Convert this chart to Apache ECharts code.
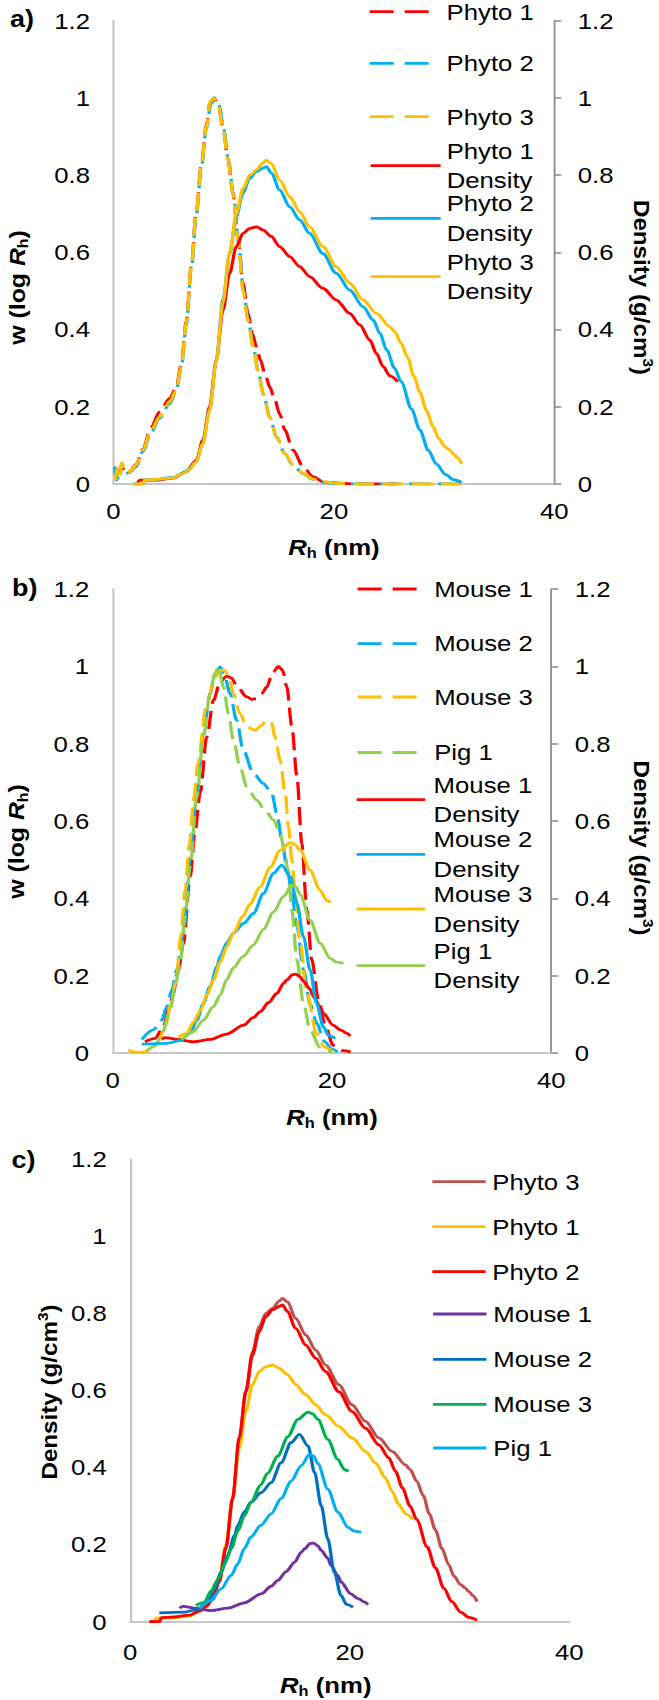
<!DOCTYPE html>
<html>
<head>
<meta charset="utf-8">
<script src="https://cdn.jsdelivr.net/npm/echarts@6/dist/echarts.min.js"></script>
<style>
html,body{margin:0;padding:0;background:#fff;overflow:hidden}
#wrap{width:659px;height:1700px;overflow:hidden;position:relative;background:#fff}
#chart{position:absolute;left:0;top:0;height:1700px;transform-origin:0 0}
</style>
</head>
<body>
<div id="wrap"><div id="chart"></div></div>
<script>
// ---------- DATA (x = Rh in nm, y = value) ----------
// Panel a: w(log Rh) distributions
const phyto1W = [[0.2,0.01],[0.3,0.04],[0.55,0.015],[0.76,0.053],[1.0,0.028],[1.45,0.032],[2.06,0.05],[2.67,0.09],[3.42,0.148],[4.18,0.187],[5.09,0.222],[5.69,0.25],[6.15,0.31],[6.6,0.42],[7.06,0.565],[7.51,0.705],[7.96,0.825],[8.42,0.928],[8.78,0.99],[9.09,1.0],[9.48,0.985],[9.93,0.925],[10.39,0.84],[10.84,0.755],[11.3,0.64],[11.75,0.52],[12.2,0.442],[12.6,0.39],[12.96,0.356],[13.35,0.32],[13.72,0.287],[14.2,0.25],[14.63,0.218],[15.1,0.18],[15.54,0.14],[16.29,0.088],[17.2,0.045],[18.1,0.019],[19.0,0.006],[20.5,0.002],[22,0],[25.7,0]];
const phyto2W = [[0.1,0.045],[0.25,0.01],[0.5,0.02],[1.0,0.025],[1.45,0.03],[2.06,0.045],[2.67,0.085],[3.42,0.135],[4.18,0.17],[5.09,0.208],[5.69,0.24],[6.15,0.3],[6.6,0.41],[7.06,0.555],[7.51,0.695],[7.96,0.815],[8.42,0.92],[8.85,0.985],[9.2,1.0],[9.6,0.98],[10.0,0.92],[10.45,0.835],[10.9,0.745],[11.35,0.625],[11.8,0.5],[12.25,0.42],[12.7,0.352],[13.15,0.29],[13.6,0.232],[14.2,0.172],[14.8,0.122],[15.55,0.078],[16.3,0.048],[17.2,0.027],[18.1,0.012],[19.0,0.005],[20.2,0.001],[22,0],[31.6,0]];
const phyto3W = [[0.18,0.01],[0.3,0.04],[0.55,0.015],[0.76,0.055],[1.0,0.03],[1.45,0.032],[2.06,0.049],[2.67,0.088],[3.42,0.14],[4.18,0.174],[5.09,0.213],[5.69,0.243],[6.15,0.304],[6.6,0.416],[7.06,0.563],[7.51,0.701],[7.96,0.822],[8.42,0.925],[8.78,0.99],[9.09,1.0],[9.48,0.986],[9.93,0.925],[10.39,0.839],[10.84,0.753],[11.3,0.632],[11.75,0.502],[12.2,0.425],[12.66,0.356],[13.11,0.295],[13.57,0.235],[14.17,0.174],[14.78,0.123],[15.54,0.079],[16.29,0.049],[17.2,0.028],[18.1,0.013],[19.0,0.006],[20.2,0.002],[22,0],[31.6,0]];
// Panel a / c: density curves
const phyto1D = [[2.2,0.003],[2.36,0.01],[3.88,0.01],[5.39,0.015],[6.6,0.032],[7.51,0.062],[8.12,0.114],[8.72,0.2],[9.33,0.321],[9.93,0.45],[10.54,0.546],[11.14,0.615],[11.75,0.649],[12.36,0.662],[12.96,0.666],[13.57,0.658],[14.32,0.641],[15.08,0.615],[15.99,0.589],[16.9,0.563],[17.8,0.537],[19.0,0.507],[20.2,0.477],[21.44,0.442],[22.35,0.412],[23.26,0.373],[23.86,0.338],[24.47,0.304],[25.08,0.28],[25.8,0.265]];
const phyto2D = [[1.76,0],[2.67,0],[2.82,0.01],[3.88,0.012],[5.39,0.017],[6.3,0.028],[6.9,0.04],[7.5,0.058],[8.1,0.105],[8.72,0.192],[9.33,0.321],[9.93,0.477],[10.54,0.597],[11.14,0.692],[11.75,0.753],[12.36,0.792],[12.96,0.809],[13.57,0.818],[13.87,0.822],[14.32,0.805],[15.08,0.761],[15.99,0.718],[16.9,0.684],[17.8,0.649],[19.0,0.597],[20.2,0.546],[21.44,0.502],[22.65,0.459],[23.56,0.425],[24.17,0.39],[24.8,0.347],[25.5,0.3],[26.1,0.265],[27.05,0.194],[27.8,0.14],[28.57,0.087],[29.3,0.052],[30.1,0.025],[30.86,0.011],[31.6,0.004]];
const phyto3D = [[1.76,0],[2.67,0],[2.82,0.01],[3.88,0.012],[5.39,0.016],[6.3,0.027],[6.9,0.038],[7.5,0.058],[8.1,0.103],[8.72,0.19],[9.33,0.318],[9.93,0.47],[10.54,0.6],[11.14,0.7],[11.75,0.765],[12.36,0.8],[12.96,0.813],[13.57,0.832],[13.87,0.839],[14.32,0.83],[15.08,0.787],[15.99,0.744],[16.9,0.705],[17.8,0.666],[19.0,0.615],[20.2,0.563],[21.44,0.52],[22.65,0.477],[23.86,0.442],[25.08,0.407],[25.5,0.395],[26.1,0.365],[26.7,0.327],[27.25,0.28],[27.8,0.238],[28.4,0.19],[29.0,0.149],[29.5,0.118],[30.1,0.096],[30.5,0.088],[30.86,0.078],[31.2,0.068],[31.6,0.052]];
// Panel b: w(log Rh) distributions
const mouse1W = [[2.95,0.029],[3.86,0.038],[4.62,0.068],[5.08,0.111],[5.54,0.154],[5.84,0.2],[6.0,0.215],[6.45,0.284],[7.06,0.456],[7.5,0.57],[7.97,0.672],[8.58,0.818],[9.19,0.913],[9.8,0.96],[10.4,0.975],[10.85,0.97],[11.3,0.95],[12.2,0.922],[12.7,0.915],[13.14,0.917],[13.6,0.93],[14.05,0.947],[14.6,0.985],[15.12,1.0],[15.5,0.99],[15.88,0.947],[16.34,0.844],[16.8,0.715],[17.25,0.542],[17.7,0.37],[18.16,0.24],[18.77,0.137],[19.4,0.07],[20.1,0.02],[21.0,0.006],[21.7,0.003]];
const mouse2W = [[2.65,0.035],[3.7,0.06],[4.47,0.085],[4.93,0.12],[5.4,0.163],[5.84,0.215],[6.45,0.31],[7.06,0.5],[7.67,0.672],[8.27,0.827],[8.88,0.93],[9.35,0.98],[9.8,0.999],[10.25,0.97],[10.7,0.93],[11.3,0.861],[11.9,0.784],[12.84,0.723],[13.75,0.697],[14.5,0.672],[14.97,0.62],[15.42,0.551],[15.88,0.482],[16.34,0.413],[16.8,0.327],[17.4,0.215],[18.0,0.128],[18.6,0.077],[19.3,0.03],[20.0,0.01],[20.5,0.003]];
const mouse3W = [[1.43,0.008],[2.0,0.002],[2.5,0.001],[3.2,0.005],[3.7,0.012],[4.17,0.029],[4.78,0.068],[5.4,0.137],[5.84,0.206],[6.2,0.3],[6.6,0.42],[7.0,0.542],[7.4,0.66],[7.75,0.745],[8.5,0.893],[9.3,0.971],[9.8,0.99],[10.2,0.99],[10.6,0.975],[11.0,0.93],[11.62,0.878],[12.23,0.844],[13.0,0.835],[13.5,0.846],[14.05,0.861],[14.5,0.853],[14.8,0.818],[15.27,0.758],[15.73,0.672],[16.03,0.585],[16.34,0.499],[16.64,0.413],[17.1,0.284],[17.7,0.154],[18.6,0.05],[19.3,0.016],[20.1,0.003]];
const pig1W = [[3.1,0.006],[3.86,0.018],[4.5,0.05],[5.23,0.111],[5.69,0.172],[6.15,0.232],[6.6,0.35],[7.06,0.482],[7.67,0.663],[8.27,0.818],[8.88,0.93],[9.3,0.98],[9.64,0.999],[10.1,0.947],[10.56,0.878],[11.0,0.81],[11.62,0.74],[12.23,0.689],[13.14,0.654],[13.9,0.628],[14.66,0.603],[15.27,0.568],[15.73,0.516],[16.03,0.456],[16.34,0.37],[16.8,0.24],[17.4,0.128],[18.0,0.06],[18.9,0.015],[20.0,0.002]];
// Panel b / c: density curves
const mouse1D = [[4.5,0.035],[4.78,0.04],[5.3,0.038],[5.84,0.035],[7.36,0.029],[8.88,0.035],[10.4,0.049],[11.93,0.072],[12.84,0.092],[13.45,0.107],[14.2,0.13],[14.97,0.154],[15.58,0.18],[15.88,0.189],[16.4,0.203],[16.7,0.204],[17.1,0.197],[17.4,0.185],[18.0,0.165],[18.3,0.146],[18.9,0.12],[19.2,0.103],[20.1,0.072],[20.75,0.06],[21.35,0.051],[21.66,0.044]];
const mouse2D = [[2.65,0.023],[4.93,0.025],[6.15,0.032],[7.06,0.051],[7.67,0.085],[8.27,0.128],[8.88,0.172],[9.5,0.223],[9.8,0.25],[10.4,0.285],[11.0,0.31],[11.93,0.335],[12.84,0.361],[13.75,0.413],[14.66,0.465],[15.42,0.486],[16.2,0.456],[16.8,0.387],[17.4,0.301],[18.0,0.215],[18.6,0.128],[19.2,0.068],[19.7,0.045],[20.3,0.038]];
const mouse3D = [[6.0,0.042],[6.75,0.05],[7.36,0.08],[8.0,0.11],[8.6,0.15],[9.2,0.19],[9.8,0.235],[10.4,0.275],[11.0,0.31],[11.9,0.355],[12.5,0.385],[13.45,0.43],[14.36,0.48],[15.27,0.525],[16.2,0.544],[16.6,0.54],[17.1,0.525],[18.0,0.473],[18.9,0.422],[19.5,0.395],[19.9,0.39]];
const pig1D = [[6.3,0.035],[7.36,0.055],[8.27,0.085],[9.19,0.12],[9.8,0.15],[10.4,0.19],[11.0,0.22],[11.9,0.25],[12.84,0.28],[13.75,0.32],[14.66,0.365],[15.58,0.405],[16.34,0.434],[16.7,0.43],[17.1,0.41],[18.0,0.344],[18.92,0.284],[19.84,0.245],[20.4,0.235],[21.05,0.232]];

// Axis ranges / tick steps
const xRange = [0, 40, 20];
const yRange = [0, 1.2, 0.2];

// ---------- LAYOUT ----------
const S = 1.17;                 // horizontal stretch of the original figure
const X = v => v / S;           // full-page px -> internal px
const FONT = '"Liberation Sans", Arial, Helvetica, sans-serif';
const INK = '#000';
const el = document.getElementById('chart');
el.style.width = (659 / S) + 'px';
el.style.transform = 'scaleX(' + S + ')';

const chart = echarts.init(el, null, { renderer: 'svg', width: 659 / S, height: 1700 });

const richBase = {
  b: { fontSize: 22, fontWeight: 'bold', fontFamily: FONT, color: INK, lineHeight: 26 },
  i: { fontSize: 22, fontWeight: 'bold', fontStyle: 'italic', fontFamily: FONT, color: INK, lineHeight: 26 },
  s: { fontSize: 14, fontWeight: 'bold', fontFamily: FONT, color: INK, lineHeight: 9, verticalAlign: 'bottom' }
};
// zrender style version (graphic texts use "fill")
const richG = {
  b: { fontSize: 22, fontWeight: 'bold', fontFamily: FONT, fill: INK, lineHeight: 26 },
  i: { fontSize: 22, fontWeight: 'bold', fontStyle: 'italic', fontFamily: FONT, fill: INK, lineHeight: 26 },
  s: { fontSize: 14, fontWeight: 'bold', fontFamily: FONT, fill: INK, lineHeight: 9, verticalAlign: 'bottom' },
  u: { fontSize: 14, fontWeight: 'bold', fontFamily: FONT, fill: INK, lineHeight: 14, verticalAlign: 'top' }
};
const rhName = '{i|R}{s|h}{b| (nm)}';
const wName = '{b|w (log }{i|R}{s|h}{b|)}';
const densName = '{b|Density (g/cm}{u|3}{b|)}';

function xAxis(gi, gap, margin, pad) {
  return {
    gridIndex: gi, type: 'value', min: xRange[0], max: xRange[1], interval: xRange[2],
    axisLine: { show: true, onZero: false, lineStyle: { color: '#c6c6c6', width: 2 } },
    axisTick: { show: false }, splitLine: { show: false },
    axisLabel: { fontSize: 22, color: INK, fontFamily: FONT, margin: margin },
    name: rhName, nameLocation: 'middle', nameGap: gap,
    nameTextStyle: { rich: richBase, padding: pad || 0 }
  };
}
function yAxis(gi, pos) {
  const right = pos === 'right';
  return {
    gridIndex: gi, type: 'value', position: pos, min: yRange[0], max: yRange[1], interval: yRange[2],
    axisLine: { show: true, onZero: false, lineStyle: { color: right ? '#8a8a8a' : '#c6c6c6', width: right ? 1.5 : 1.8 } },
    axisTick: { show: right, inside: false, length: X(7), lineStyle: { color: '#8a8a8a', width: 1.5 } },
    splitLine: { show: false },
    axisLabel: { fontSize: 22, color: INK, fontFamily: FONT, margin: X(23.5) }
  };
}
// rotated axis title (real text), placed by its centre in page px
function vTitle(text, cxFull, cyFull, up, len) {
  return {
    type: 'text', x: X(cxFull), y: cyFull, rotation: up ? Math.PI / 2 : -Math.PI / 2,
    scaleX: len, scaleY: 0.85, silent: true,
    style: { text: text, rich: richG, align: 'center', verticalAlign: 'middle' }
  };
}
function line(name, data, color, dashed, xi, yi) {
  return {
    type: 'line', name: name, data: data, xAxisIndex: xi, yAxisIndex: yi,
    symbol: 'none', showSymbol: false, smooth: 0.3, smoothMonotone: 'x',
    lineStyle: { color: color, width: 2.8, type: dashed ? [18, 7] : 'solid' },
    itemStyle: { color: color }, emphasis: { disabled: true }, silent: true, animation: false
  };
}
function leg(name, leftFull, cyFull, wFull, dashed, twoLine, textLeftFull) {
  const lh = 29.5;
  const defaultText = leftFull + wFull + 5 * S;
  const pl = Math.max(0, (textLeftFull - defaultText) / S);
  return {
    data: [name], orient: 'vertical', left: X(leftFull), top: cyFull - (twoLine ? 1.5 * lh : 0.5 * lh),
    padding: 0, itemGap: 0, itemWidth: X(wFull), itemHeight: 14, selectedMode: false,
    formatter: n => n.replace(/^c: /, '').replace(' Density', '\nDensity'),
    textStyle: { fontSize: 22, fontFamily: FONT, color: INK, lineHeight: lh, padding: [twoLine ? lh : 0, 0, 0, pl] },
    itemStyle: { color: 'rgba(0,0,0,0)', borderWidth: 0, opacity: 0 },
    lineStyle: dashed ? { type: [X(24), X(11)], width: 2.8 } : { type: 'solid', width: 2.8 }
  };
}

const RED = '#FF0000', BLUE = '#00B0F0', GOLD = '#FFC000', GREEN = '#92D050';
const BROWN = '#C0504D', PURPLE = '#7030A0', DBLUE = '#0070C0', DGREEN = '#00B050';

const option = {
  backgroundColor: '#fff',
  animation: false,
  title: [
    { text: 'a)', left: X(10), top: 7, padding: 0, textStyle: { fontSize: 23, fontWeight: 'bold', fontFamily: FONT, color: INK } },
    { text: 'b)', left: X(12), top: 576, padding: 0, textStyle: { fontSize: 23, fontWeight: 'bold', fontFamily: FONT, color: INK } },
    { text: 'c)', left: X(11.5), top: 1148, padding: 0, textStyle: { fontSize: 23, fontWeight: 'bold', fontFamily: FONT, color: INK } }
  ],
  grid: [
    { left: X(113.5), width: X(440.8), top: 20.7, height: 463.3 },
    { left: X(112.7), width: X(438.6), top: 589.2, height: 463.8 },
    { left: X(130.2), width: X(439.1), top: 1159.3, height: 462.4 }
  ],
  xAxis: [ xAxis(0, 50, 16), xAxis(1, 51, 16), xAxis(2, 50, 19, [0, 41, 0, 0]) ],
  yAxis: [ yAxis(0, 'left'), yAxis(0, 'right'), yAxis(1, 'left'), yAxis(1, 'right'), yAxis(2, 'left') ],
  graphic: [
    vTitle(wName, 17.3, 287.5, true, 1.13),
    vTitle(densName, 641.7, 287.5, false, 1.1),
    vTitle(wName, 17, 841.5, true, 1.13),
    vTitle(densName, 642, 848, false, 1.1),
    vTitle(densName, 49.4, 1392, true, 1.1)
  ],
  legend: [
    leg('Phyto 1', 368, 11.7, 60, true, false, 445),
    leg('Phyto 2', 368, 63.3, 60, true, false, 445),
    leg('Phyto 3', 368, 116.7, 60, true, false, 445),
    leg('Phyto 1 Density', 369, 165.7, 70, false, true, 445),
    leg('Phyto 2 Density', 369, 218.3, 70, false, true, 445),
    leg('Phyto 3 Density', 369, 276.7, 70, false, true, 445),

    leg('Mouse 1', 356, 589, 60, true, false, 432.5),
    leg('Mouse 2', 356, 643.6, 60, true, false, 432.5),
    leg('Mouse 3', 356, 697, 60, true, false, 432.5),
    leg('Pig 1', 356, 752.5, 60, true, false, 432.5),
    leg('Mouse 1 Density', 355, 799.6, 68.5, false, true, 432),
    leg('Mouse 2 Density', 355, 854.3, 68.5, false, true, 432),
    leg('Mouse 3 Density', 355, 909, 68.5, false, true, 432),
    leg('Pig 1 Density', 355, 965.7, 68.5, false, true, 432),

    leg('c: Phyto 3', 430.7, 1181.7, 53.3, false, false, 490.7),
    leg('c: Phyto 1', 430.7, 1226.7, 53.3, false, false, 490.7),
    leg('c: Phyto 2', 430.7, 1271.7, 53.3, false, false, 490.7),
    leg('c: Mouse 1', 431.5, 1314, 53.3, false, false, 491.7),
    leg('c: Mouse 2', 431.5, 1359.3, 53.3, false, false, 491.7),
    leg('c: Mouse 3', 431.5, 1404.3, 53.3, false, false, 491.7),
    leg('c: Pig 1', 431.5, 1448, 53.3, false, false, 491.7)
  ],
  series: [
    line('Phyto 1', phyto1W, RED, true, 0, 0),
    line('Phyto 2', phyto2W, BLUE, true, 0, 0),
    line('Phyto 3', phyto3W, GOLD, true, 0, 0),
    line('Phyto 1 Density', phyto1D, RED, false, 0, 1),
    line('Phyto 2 Density', phyto2D, BLUE, false, 0, 1),
    line('Phyto 3 Density', phyto3D, GOLD, false, 0, 1),

    line('Mouse 1', mouse1W, RED, true, 1, 2),
    line('Mouse 2', mouse2W, BLUE, true, 1, 2),
    line('Mouse 3', mouse3W, GOLD, true, 1, 2),
    line('Pig 1', pig1W, GREEN, true, 1, 2),
    line('Mouse 1 Density', mouse1D, RED, false, 1, 3),
    line('Mouse 2 Density', mouse2D, BLUE, false, 1, 3),
    line('Mouse 3 Density', mouse3D, GOLD, false, 1, 3),
    line('Pig 1 Density', pig1D, GREEN, false, 1, 3),

    line('c: Phyto 3', phyto3D, BROWN, false, 2, 4),
    line('c: Phyto 1', phyto1D, GOLD, false, 2, 4),
    line('c: Phyto 2', phyto2D, RED, false, 2, 4),
    line('c: Mouse 1', mouse1D, PURPLE, false, 2, 4),
    line('c: Mouse 2', mouse2D, DBLUE, false, 2, 4),
    line('c: Mouse 3', mouse3D, DGREEN, false, 2, 4),
    line('c: Pig 1', pig1D, BLUE, false, 2, 4)
  ]
};
chart.setOption(option);
</script>
</body>
</html>
